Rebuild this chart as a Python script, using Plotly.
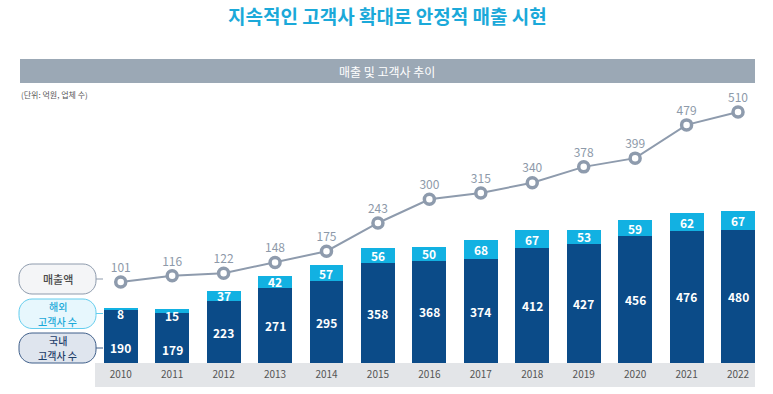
import plotly.graph_objects as go

years = ["2010","2011","2012","2013","2014","2015","2016","2017","2018","2019","2020","2021","2022"]
domestic = [190,179,223,271,295,358,368,374,412,427,456,476,480]
overseas = [8,15,37,42,57,56,50,68,67,53,59,62,67]
revenue = [101,116,122,148,175,243,300,315,340,378,399,479,510]

FW, FH = 773, 394
L, R, T, B = 95, 755, 100, 363
W, H = R - L, B - T

def px(x):
    return (x - L) / W

def py(y):
    return (B - y) / H

NAVY = "#0b4b88"
CYAN = "#12b1e2"
GRAY_LINE = "#8e9bad"
FONT = "Noto Sans CJK KR"

xs = list(range(len(years)))

fig = go.Figure()
fig.add_bar(x=xs, y=domestic, marker_color=NAVY, marker_line_width=0, hoverinfo="skip")
fig.add_bar(x=xs, y=overseas, marker_color=CYAN, marker_line_width=0, hoverinfo="skip")
fig.add_scatter(x=xs, y=revenue, yaxis="y2", mode="lines+markers+text", cliponaxis=False,
                line=dict(color=GRAY_LINE, width=2),
                marker=dict(size=10, color="white", line=dict(color=GRAY_LINE, width=3.5)),
                text=[str(v) for v in revenue], textposition="top center",
                textfont=dict(size=12, color="#8d99a9", family=FONT), hoverinfo="skip")

annotations = []
for i, (d, o) in enumerate(zip(domestic, overseas)):
    small = o < 30
    annotations.append(dict(x=i, y=d / 2, xref="x", yref="y", text=f"<b>{d}</b>", showarrow=False,
                            yshift=-11 if small else 0,
                            font=dict(size=12, color="white", family=FONT)))
    if small:
        annotations.append(dict(x=i, y=d + o, xref="x", yref="y", text=f"<b>{o}</b>", showarrow=False,
                                yshift=-6, font=dict(size=12, color="white", family=FONT)))
    else:
        annotations.append(dict(x=i, y=d + o / 2, xref="x", yref="y", text=f"<b>{o}</b>", showarrow=False,
                                font=dict(size=12, color="white", family=FONT)))

def txt(x, y, text, size, color, anchor="center", weight="normal"):
    return dict(x=px(x), y=py(y), xref="paper", yref="paper", showarrow=False,
                xanchor=anchor, yanchor="middle", text=text, borderpad=0,
                font=dict(size=size, color=color, family=FONT, weight=weight))

annotations.append(txt(387, 15, "<b>지속적인 고객사 확대로 안정적 매출 시현</b>", 19, "#1ba9d9"))
annotations.append(txt(387, 71, "매출 및 고객사 추이", 12, "white"))
annotations.append(txt(20, 95, "(단위: 억원, 업체 수)", 8, "#555555", "left"))

def pill(x0, y0, x1, y1, r, fill, line):
    X0, X1 = px(x0), px(x1)
    Y0, Y1 = py(y0), py(y1)
    rx = r / W
    ry = r / H
    k = 0.55
    path = (f"M {X0+rx},{Y0} L {X1-rx},{Y0} "
            f"C {X1-rx+k*rx},{Y0} {X1},{Y0-ry+k*ry} {X1},{Y0-ry} "
            f"L {X1},{Y1+ry} "
            f"C {X1},{Y1+ry-k*ry} {X1-rx+k*rx},{Y1} {X1-rx},{Y1} "
            f"L {X0+rx},{Y1} "
            f"C {X0+rx-k*rx},{Y1} {X0},{Y1+ry-k*ry} {X0},{Y1+ry} "
            f"L {X0},{Y0-ry} "
            f"C {X0},{Y0-ry+k*ry} {X0+rx-k*rx},{Y0} {X0+rx},{Y0} Z")
    return dict(type="path", path=path, xref="paper", yref="paper",
                fillcolor=fill, line=dict(color=line, width=1))

shapes = [
    dict(type="rect", xref="paper", yref="paper", x0=px(20), x1=px(755), y0=py(83), y1=py(59),
         fillcolor="#9ba8b5", line=dict(width=0), layer="below"),
    dict(type="rect", xref="paper", yref="paper", x0=px(95), x1=px(755), y0=py(387), y1=py(363),
         fillcolor="#e3e5e8", line=dict(width=0), layer="below"),
    pill(19, 264, 96, 294, 13, "#f4f5f7", "#8e9bad"),
    pill(19, 299, 96, 328.5, 13, "#e7f7fd", "#63cdee"),
    pill(19, 333, 96, 363, 13, "#dfe5ee", "#3f5f8a"),
]
for cy, col in [(279, "#8e9bad"), (313.5, "#63cdee"), (348, "#3f5f8a")]:
    shapes.append(dict(type="line", xref="paper", yref="paper", x0=px(96), x1=px(103),
                       y0=py(cy), y1=py(cy), line=dict(color=col, width=1)))

annotations.append(txt(57.5, 279, "매출액", 11, "#4a4a4a", weight=500))
annotations.append(txt(57.5, 306.5, "해외", 10, "#1ba9d9", weight=500))
annotations.append(txt(57.5, 321, "고객사 수", 10, "#1ba9d9", weight=500))
annotations.append(txt(57.5, 340.75, "국내", 10, "#1f3f6b", weight=500))
annotations.append(txt(57.5, 355.25, "고객사 수", 10, "#1f3f6b", weight=500))

bar_scale = 0.278
line_scale = 0.4157
line_zero_px = 324

fig.update_layout(
    width=FW, height=FH,
    margin=dict(l=L, r=FW - R, t=T, b=FH - B, pad=0),
    paper_bgcolor="white", plot_bgcolor="white",
    barmode="stack", bargap=0.34, showlegend=False,
    font=dict(family=FONT),
    xaxis=dict(range=[-0.5, 12.33], tickvals=xs, ticktext=years, showgrid=False, zeroline=False,
               showline=False, ticks="", ticklabelstandoff=4,
               tickfont=dict(size=10, color="#555555", family=FONT),
               fixedrange=True),
    yaxis=dict(range=[0, H / bar_scale], visible=False, fixedrange=True),
    yaxis2=dict(range=[-(B - line_zero_px) / line_scale, (line_zero_px - T) / line_scale],
                overlaying="y", visible=False, fixedrange=True),
    shapes=shapes, annotations=annotations,
)

fig.write_html("out.html", config={"displayModeBar": False},
               post_script="document.body.style.margin='0';document.body.style.overflow='hidden';")
